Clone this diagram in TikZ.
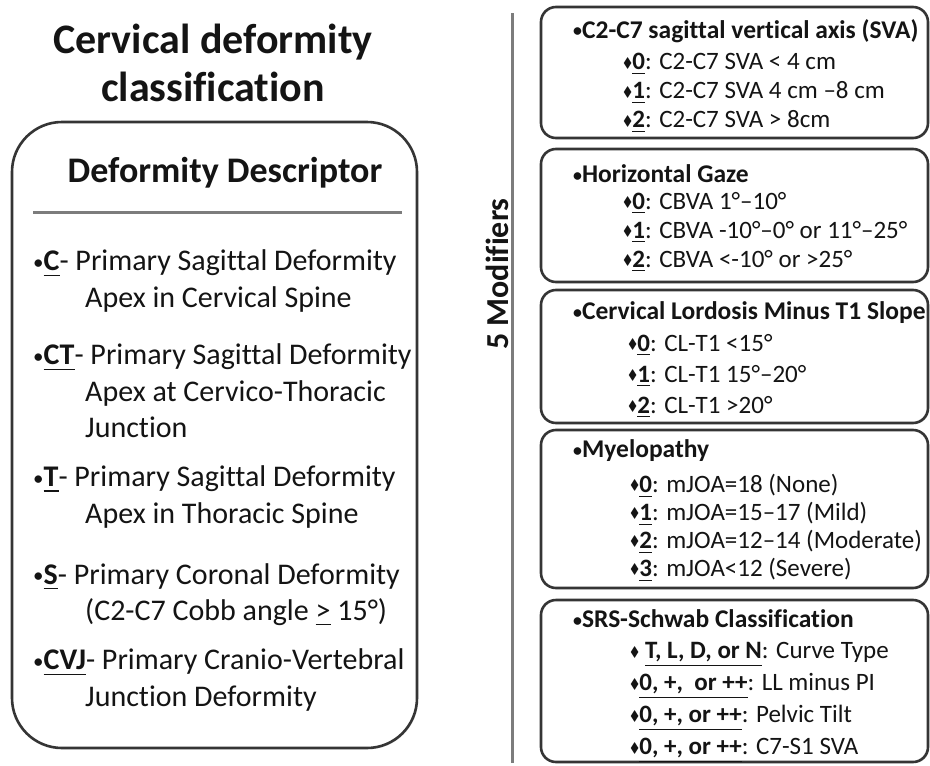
\documentclass[tikz,border=0pt]{standalone}
\usepackage{fontspec}
\setmainfont{Carlito}[Ligatures=NoCommon]
\usepackage{amssymb}
\usetikzlibrary{shadows}

\definecolor{boxline}{HTML}{353535}
\definecolor{rulegray}{HTML}{7C7C7C}
\definecolor{inkblack}{HTML}{141414}

\newcommand{\rbul}{\raisebox{0.12ex}{\scalebox{0.7}{•}}}
\newcommand{\dbul}{\raisebox{0.22ex}{\scalebox{0.55}{$\blacklozenge$}}}
\newcommand{\keyul}[1]{\underline{\textbf{#1}}}

\tikzset{
  framebox/.style={draw=boxline, line width=2.6pt, fill=white,
    drop shadow={opacity=0.25, shadow xshift=1.2pt, shadow yshift=-1.2pt}},
  bigtitle/.style={align=center, font=\fontsize{42}{48}\selectfont\bfseries, text=inkblack},
  desitem/.style={anchor=west, align=left, inner sep=0pt, text=inkblack,
    font=\fontsize{30}{36.5}\selectfont},
  modhead/.style={anchor=west, inner sep=0pt, text=inkblack,
    font=\fontsize{25.5}{29}\selectfont\bfseries},
  moditem/.style={anchor=west, align=left, inner sep=0pt, text=inkblack},
}

\begin{document}
\begin{tikzpicture}[x=1pt, y=-1pt]
\useasboundingbox (0,0) rectangle (930,766);

% left side: descriptor
\node[bigtitle] (title) at (213,63) {Cervical deformity\\classification};
\draw[framebox, rounded corners=50pt] (12,122) rectangle (417,748);
\node[font=\fontsize{36}{40}\selectfont\bfseries, text=inkblack] (deshead) at (225,173) {Deformity Descriptor};
\draw[rulegray, line width=3pt] (33,212) -- (402,212);

\node[desitem] (dC) at (33,281) {\rbul\keyul{C}- Primary Sagittal Deformity\\
  \hspace*{52pt}Apex in Cervical Spine};
\node[desitem] (dCT) at (33,391) {\rbul\keyul{CT}- Primary Sagittal Deformity\\
  \hspace*{52pt}Apex at Cervico-Thoracic\\
  \hspace*{52pt}Junction};
\node[desitem] (dT) at (33,497) {\rbul\keyul{T}- Primary Sagittal Deformity\\
  \hspace*{52pt}Apex in Thoracic Spine};
\node[desitem] (dS) at (33,595) {\rbul\keyul{S}- Primary Coronal Deformity\\
  \hspace*{52pt}(C2-C7 Cobb angle \underline{>} 15°)};
\node[desitem] (dCVJ) at (33,680) {\rbul\keyul{CVJ}- Primary Cranio-Vertebral\\
  \hspace*{52pt}Junction Deformity};

% divider
\draw[rulegray, line width=3pt] (512,13) -- (512,763);
\node[rotate=90, font=\fontsize{32}{36}\selectfont\bfseries, text=inkblack] (modlabel) at (497,274) {5 Modifiers};

% right side: modifier boxes
\draw[framebox, rounded corners=15pt] (541,7) rectangle (928,138);
\node[modhead] (svahead) at (573,31) {\rbul C2-C7 sagittal vertical axis (SVA)};
\node[moditem, font=\fontsize{25}{29}\selectfont] (svaitems) at (623,93)
  {\dbul\keyul{0}: C2-C7 SVA < 4 cm\\ \dbul\keyul{1}: C2-C7 SVA 4 cm –8 cm\\ \dbul\keyul{2}: C2-C7 SVA > 8cm};

\draw[framebox, rounded corners=15pt] (541,149) rectangle (928,282);
\node[modhead] (gazehead) at (573,174) {\rbul Horizontal Gaze};
\node[moditem, font=\fontsize{25}{29}\selectfont] (gazeitems) at (623,232)
  {\dbul\keyul{0}: CBVA 1°–10°\\ \dbul\keyul{1}: CBVA -10°–0° or 11°–25°\\ \dbul\keyul{2}: CBVA <-10° or >25°};

\draw[framebox, rounded corners=15pt] (541,290) rectangle (928,423);
\node[modhead] (clhead) at (573,313) {\rbul Cervical Lordosis Minus T1 Slope};
\node[moditem, font=\fontsize{25}{31}\selectfont] (clitems) at (628,376)
  {\dbul\keyul{0}: CL-T1 <15°\\ \dbul\keyul{1}: CL-T1 15°–20°\\ \dbul\keyul{2}: CL-T1 >20°};

\draw[framebox, rounded corners=15pt] (541,430) rectangle (928,588);
\node[modhead] (myelohead) at (573,451) {\rbul Myelopathy};
\node[moditem, font=\fontsize{25}{28}\selectfont] (myeloitems) at (630,528)
  {\dbul\keyul{0}: mJOA=18 (None)\\ \dbul\keyul{1}: mJOA=15–17 (Mild)\\
   \dbul\keyul{2}: mJOA=12–14 (Moderate)\\ \dbul\keyul{3}: mJOA<12 (Severe)};

\draw[framebox, rounded corners=15pt] (541,600) rectangle (928,762);
\node[modhead] (srshead) at (573,619) {\rbul SRS-Schwab Classification};
\node[moditem, font=\fontsize{25}{32}\selectfont] (srsitems) at (630,703)
  {\dbul\ \keyul{T, L, D, or N}: Curve Type\\ \dbul\keyul{0, +,\ \ or ++}: LL minus PI\\
   \dbul\keyul{0, +, or ++}: Pelvic Tilt\\ \dbul\keyul{0, +, or ++}: C7-S1 SVA};
\end{tikzpicture}
\end{document}
